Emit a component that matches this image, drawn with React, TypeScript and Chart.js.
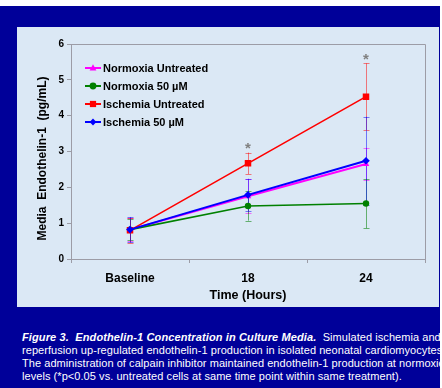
import React, { useEffect, useRef } from "react";
import { Chart, registerables } from "chart.js";

Chart.register(...registerables);

const categories = ["Baseline", "18", "24"];
const yTicks = [0, 1, 2, 3, 4, 5, 6];

const normoxiaUntreated = [0.82, 1.75, 2.65];
const normoxiaUntreatedErr = [0.33, 0.48, 0.45];
const normoxia50 = [0.82, 1.48, 1.55];
const normoxia50Err = [0.3, 0.41, 0.69];
const ischemiaUntreated = [0.8, 2.67, 4.53];
const ischemiaUntreatedErr = [0.35, 0.3, 0.93];
const ischemia50 = [0.82, 1.79, 2.74];
const ischemia50Err = [0.35, 0.45, 1.23];
const asteriskY = [null, 3.21, 5.68];

const FONT = "Arial, 'Liberation Sans', sans-serif";

type Series = {
  label: string;
  data: number[];
  err: number[];
  color: string;
  errColor: string;
  style: string;
  radius: number;
  width: number;
  order: number;
};

const series: Series[] = [
  { label: "Normoxia Untreated", data: normoxiaUntreated, err: normoxiaUntreatedErr, color: "#ff00ff", errColor: "rgba(255,0,255,0.55)", style: "triangle", radius: 3.8, width: 2, order: 3 },
  { label: "Normoxia 50 \u00b5M", data: normoxia50, err: normoxia50Err, color: "#008000", errColor: "rgba(0,128,0,0.55)", style: "circle", radius: 3.2, width: 1.6, order: 2 },
  { label: "Ischemia Untreated", data: ischemiaUntreated, err: ischemiaUntreatedErr, color: "#ff0000", errColor: "rgba(255,0,0,0.5)", style: "rect", radius: 4.6, width: 1.6, order: 1 },
  { label: "Ischemia 50 \u00b5M", data: ischemia50, err: ischemia50Err, color: "#0000ff", errColor: "rgba(0,0,255,0.5)", style: "rectRot", radius: 3.8, width: 2, order: 0 },
];

function drawMarker(ctx: CanvasRenderingContext2D, style: string, x: number, y: number, r: number, color: string) {
  ctx.save();
  ctx.fillStyle = color;
  ctx.beginPath();
  if (style === "circle") {
    ctx.arc(x, y, r, 0, Math.PI * 2);
  } else if (style === "rect") {
    const s = Math.SQRT1_2 * r;
    ctx.rect(x - s, y - s, 2 * s, 2 * s);
  } else if (style === "rectRot") {
    ctx.moveTo(x, y - r);
    ctx.lineTo(x + r, y);
    ctx.lineTo(x, y + r);
    ctx.lineTo(x - r, y);
    ctx.closePath();
  } else if (style === "triangle") {
    ctx.moveTo(x, y - r * 1.1);
    ctx.lineTo(x + r, y + r * 0.7);
    ctx.lineTo(x - r, y + r * 0.7);
    ctx.closePath();
  }
  ctx.fill();
  ctx.restore();
}

const extrasPlugin = {
  id: "extras",
  beforeDatasetsDraw(chart: any) {
    const ctx = chart.ctx as CanvasRenderingContext2D;
    const xs = chart.scales.x;
    const ys = chart.scales.y;
    ctx.save();
    ctx.lineWidth = 1;
    series.forEach((s) => {
      ctx.strokeStyle = s.errColor;
      s.data.forEach((v, i) => {
        const x = Math.round(xs.getPixelForValue(i)) + 0.5;
        const top = ys.getPixelForValue(v + s.err[i]);
        const bot = ys.getPixelForValue(v - s.err[i]);
        ctx.beginPath();
        ctx.moveTo(x, top);
        ctx.lineTo(x, bot);
        ctx.moveTo(x - 3, Math.round(top) + 0.5);
        ctx.lineTo(x + 3, Math.round(top) + 0.5);
        ctx.moveTo(x - 3, Math.round(bot) + 0.5);
        ctx.lineTo(x + 3, Math.round(bot) + 0.5);
        ctx.stroke();
      });
    });
    ctx.restore();
  },
  afterDraw(chart: any) {
    const ctx = chart.ctx as CanvasRenderingContext2D;
    const a = chart.chartArea;
    const xs = chart.scales.x;
    const ys = chart.scales.y;
    ctx.save();
    ctx.strokeStyle = "#9c9ca6";
    ctx.lineWidth = 1;
    ctx.beginPath();
    ctx.moveTo(Math.round(a.left) + 0.5, Math.round(a.top) + 0.5);
    ctx.lineTo(Math.round(a.right) + 0.5, Math.round(a.top) + 0.5);
    ctx.lineTo(Math.round(a.right) + 0.5, Math.round(a.bottom) + 0.5);
    ctx.stroke();

    ctx.fillStyle = "#808080";
    ctx.font = `bold 15px ${FONT}`;
    ctx.textAlign = "center";
    ctx.textBaseline = "alphabetic";
    asteriskY.forEach((v, i) => {
      if (v == null) return;
      const x = xs.getPixelForValue(i);
      const y = ys.getPixelForValue(v);
      ctx.fillText("*", x, y + 0.57 * 15);
    });

    series.forEach((s, i) => {
      const y = a.top + 24 + i * 18;
      const x0 = a.left + 14;
      ctx.strokeStyle = s.color;
      ctx.lineWidth = 2;
      ctx.beginPath();
      ctx.moveTo(x0, y);
      ctx.lineTo(x0 + 16, y);
      ctx.stroke();
      drawMarker(ctx, s.style, x0 + 8, y, s.style === "rect" ? 4.4 : 3.4, s.color);
      ctx.fillStyle = "#000";
      ctx.font = `bold 11px ${FONT}`;
      ctx.textAlign = "left";
      ctx.textBaseline = "middle";
      ctx.fillText(s.label, x0 + 18, y + 0.5);
    });

    ctx.fillStyle = "#000";
    ctx.font = `bold 12px ${FONT}`;
    ctx.textAlign = "center";
    ctx.textBaseline = "middle";
    ctx.save();
    ctx.translate(26, 131.5);
    ctx.rotate(-Math.PI / 2);
    ctx.fillText("Media  Endothelin-1  (pg/mL)", 0, 0);
    ctx.restore();
    ctx.font = `bold 12.5px ${FONT}`;
    ctx.fillText("Time (Hours)", (a.left + a.right) / 2, 269);
    ctx.restore();
  },
};

function ChartCanvas() {
  const ref = useRef<HTMLCanvasElement | null>(null);
  useEffect(() => {
    if (!ref.current) return;
    const chart = new Chart(ref.current, {
      type: "line",
      data: {
        labels: categories,
        datasets: series.map((s) => ({
          label: s.label,
          data: s.data,
          borderColor: s.color,
          backgroundColor: s.color,
          borderWidth: s.width,
          pointStyle: s.style as any,
          pointRadius: s.radius,
          pointBorderWidth: 0,
          pointBackgroundColor: s.color,
          pointBorderColor: s.color,
          tension: 0,
          fill: false,
          order: s.order,
        })),
      },
      options: {
        responsive: false,
        animation: false,
        devicePixelRatio: 1,
        layout: { padding: { left: 0, top: 17, right: 14, bottom: 0 } },
        plugins: { legend: { display: false }, tooltip: { enabled: false }, title: { display: false } },
        scales: {
          x: {
            type: "category",
            offset: true,
            grid: { offset: true, drawOnChartArea: false, drawTicks: true, tickLength: 4, color: "#9c9ca6" },
            border: { display: true, color: "#9c9ca6" },
            ticks: { color: "#000", font: { family: FONT, size: 12, weight: "bold" }, padding: 8, maxRotation: 0 },
            afterFit: (s: any) => { s.height = 48; },
          },
          y: {
            min: 0,
            max: 6,
            afterBuildTicks: (s: any) => { s.ticks = yTicks.map((v) => ({ value: v })); },
            grid: { drawOnChartArea: false, drawTicks: true, tickLength: 4, color: "#9c9ca6" },
            border: { display: true, color: "#9c9ca6" },
            ticks: { color: "#000", font: { family: FONT, size: 10, weight: "bold" }, padding: 3 },
            afterFit: (s: any) => { s.width = 54; },
          },
        },
      },
      plugins: [extrasPlugin],
    });
    return () => chart.destroy();
  }, []);
  return <canvas ref={ref} width={422} height={280} style={{ display: "block", width: 422, height: 280 }} />;
}

export default function App() {
  return (
    <div style={{ position: "absolute", left: 0, top: 0, width: 442, height: 388, overflow: "hidden", background: "#ffffff" }}>
      <div style={{ position: "absolute", left: 0, top: 6, width: 440, height: 382, background: "#000099" }} />
      <div style={{ position: "absolute", left: 17, top: 27, width: 422, height: 280, background: "#dbe8f5" }}>
        <ChartCanvas />
      </div>
      <div
        style={{
          position: "absolute",
          left: 22,
          top: 331,
          width: 480,
          color: "#ffffff",
          fontFamily: FONT,
          fontSize: 11,
          lineHeight: "13px",
          whiteSpace: "pre",
          letterSpacing: "0.06px",
        }}
      >
        <div>
          <b><i style={{ letterSpacing: "0.12px" }}>{"Figure 3.  Endothelin-1 Concentration in Culture Media."}</i></b>
          {"  Simulated ischemia and"}
        </div>
        <div>{"reperfusion up-regulated endothelin-1 production in isolated neonatal cardiomyocytes."}</div>
        <div>{"The administration of calpain inhibitor maintained endothelin-1 production at normoxic"}</div>
        <div>{"levels (*p<0.05 vs. untreated cells at same time point within same treatment)."}</div>
      </div>
    </div>
  );
}
